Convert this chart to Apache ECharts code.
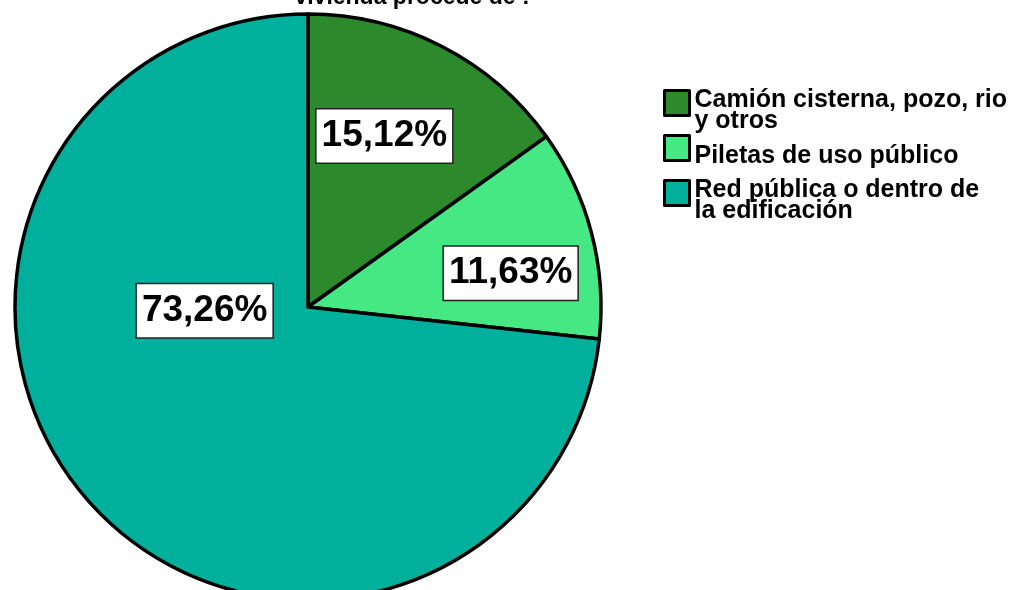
<!DOCTYPE html>
<html>
<head>
<meta charset="utf-8">
<script src="https://cdn.jsdelivr.net/npm/echarts@6/dist/echarts.min.js"></script>
<style>
  html, body { margin: 0; padding: 0; background: #fff; }
  #chart { width: 1021px; height: 590px; }
</style>
</head>
<body>
<div id="chart"></div>
<script>
// Origen del agua que abastece la vivienda (porcentajes)
const categories = [
  'Camión cisterna, pozo, rio\ny otros',
  'Piletas de uso público',
  'Red pública o dentro de\nla edificación'
];
const percentages = [15.12, 11.63, 73.26];
const sliceColors = ['#2C8A2C', '#45E882', '#00B09C'];
const titleLine = 'vivienda procede de :';

// Desplazamiento de cada etiqueta respecto a su posición interior por defecto
const labelShift = [[8, -38], [58, 4], [8, -96]];

const fontFamily = '"Liberation Sans", Arial, sans-serif';
const legendFont = { fontFamily: fontFamily, fontWeight: 'bold', fontSize: 25, lineHeight: 21, color: '#000' };

const chart = echarts.init(document.getElementById('chart'), null, { renderer: 'canvas' });

chart.setOption({
  animation: false,
  backgroundColor: '#ffffff',
  graphic: [{
    type: 'text',
    x: 412,
    y: 9,
    style: {
      text: titleLine,
      align: 'center',
      verticalAlign: 'bottom',
      font: 'bold 23px ' + fontFamily,
      fill: '#000'
    }
  }],
  legend: {
    orient: 'vertical',
    left: 663,
    top: 72,
    padding: 0,
    itemGap: -6.5,
    itemWidth: 25,
    itemHeight: 25,
    icon: 'rect',
    itemStyle: { borderColor: '#000', borderWidth: 3 },
    // texto desplazado hacia abajo respecto al cuadro de color
    formatter: name => name.split('\n').map(line => '{t|' + line + '}').join('\n'),
    textStyle: {
      ...legendFont,
      rich: {
        t: { ...legendFont, padding: [16, 0, 0, 0] }
      }
    },
    data: categories
  },
  series: [{
    type: 'pie',
    center: [308, 307],
    radius: 293,
    startAngle: 90,
    clockwise: true,
    silent: true,
    itemStyle: { borderColor: '#000', borderWidth: 3.5 },
    label: {
      show: true,
      position: 'inside',
      formatter: p => p.value.toFixed(2).replace('.', ',') + '%',
      color: '#000',
      fontFamily: fontFamily,
      fontWeight: 'bold',
      fontSize: 37,
      lineHeight: 43,
      backgroundColor: '#fff',
      borderColor: '#222',
      borderWidth: 1.5,
      padding: [5, 5, 5, 5]
    },
    labelLine: { show: false },
    labelLayout: p => ({ dx: labelShift[p.dataIndex][0], dy: labelShift[p.dataIndex][1] }),
    data: categories.map((name, i) => ({
      name: name,
      value: percentages[i],
      itemStyle: { color: sliceColors[i] }
    }))
  }]
});
</script>
</body>
</html>
